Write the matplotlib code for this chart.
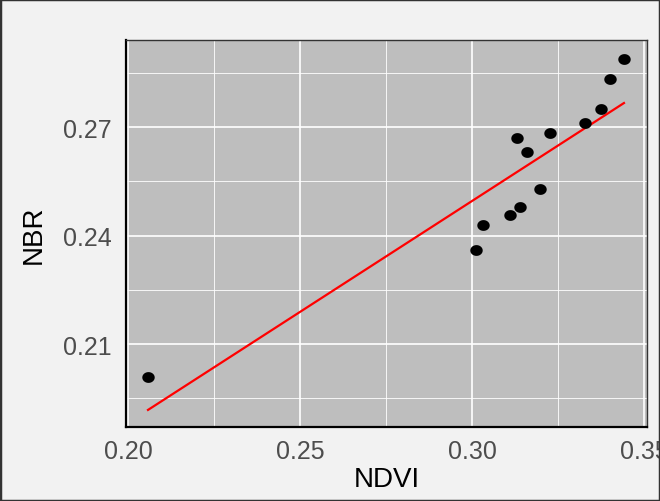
import numpy as np
import matplotlib
matplotlib.use("Agg")
import matplotlib.pyplot as plt
from matplotlib.patches import Rectangle
from matplotlib.path import Path

ndvi = [0.2058, 0.3012, 0.3032, 0.3110, 0.3140, 0.3131, 0.3160, 0.3198,
        0.3227, 0.3328, 0.3375, 0.3401, 0.3442]
nbr = [0.2009, 0.2359, 0.2430, 0.2458, 0.2480, 0.2670, 0.2631, 0.2530,
       0.2683, 0.2711, 0.2750, 0.2833, 0.2888]
xticks = [0.20, 0.25, 0.30, 0.35]
yticks = [0.21, 0.24, 0.27]

plt.rcParams['font.family'] = ['Liberation Sans', 'DejaVu Sans']

fig = plt.figure(figsize=(6.6, 5.02), dpi=100, facecolor='#f2f2f2')
ax = fig.add_axes([126/660, 1 - 428/502, (647-126)/660, (428-41)/502])
ax.set_facecolor('#bebebe')

ax.set_xlim(0.1994, 0.3509)
ax.set_ylim(0.18705, 0.2941)
ax.set_xticks(xticks)
ax.set_yticks(yticks)
ax.set_xticklabels([f"{v:.2f}" for v in xticks])
ax.set_yticklabels([f"{v:.2f}" for v in yticks])
ax.set_xticks([0.225, 0.275, 0.325], minor=True)
ax.set_yticks([0.195, 0.225, 0.255, 0.285], minor=True)
ax.grid(which='major', color='white', linewidth=1.2)
ax.grid(which='minor', color='white', linewidth=0.6)
ax.set_axisbelow(True)
ax.tick_params(which='both', length=0, labelsize=18, labelcolor='#4d4d4d')
ax.tick_params(axis='y', pad=10)
ax.tick_params(axis='x', pad=9)

for s in ['left', 'bottom']:
    ax.spines[s].set_color('black')
    ax.spines[s].set_linewidth(1.6)
for s in ['top', 'right']:
    ax.spines[s].set_color('#333333')
    ax.spines[s].set_linewidth(1.0)

# slightly wide elliptical dot, as in the reference
t = np.linspace(0, 2 * np.pi, 60)
ell = Path(np.column_stack([1.15 * np.cos(t), np.sin(t)]), closed=True)

x = np.array(ndvi)
y = np.array(nbr)
m, b = np.polyfit(x, y, 1)
xl = np.array([x.min(), x.max()])
ax.plot(xl, m * xl + b, color='red', linewidth=1.6, zorder=2)
ax.scatter(x, y, s=80, marker=ell, color='black', zorder=3, linewidths=0)

ax.set_xlabel('NDVI', fontsize=20, color='black', labelpad=2)
ax.set_ylabel('NBR', fontsize=20, color='black', labelpad=12)

fig.patches.append(Rectangle((0, 0), 1, 1, transform=fig.transFigure,
                             fill=False, edgecolor='#333333', linewidth=2.5))

fig.savefig('out.png', dpi=100, facecolor=fig.get_facecolor())
